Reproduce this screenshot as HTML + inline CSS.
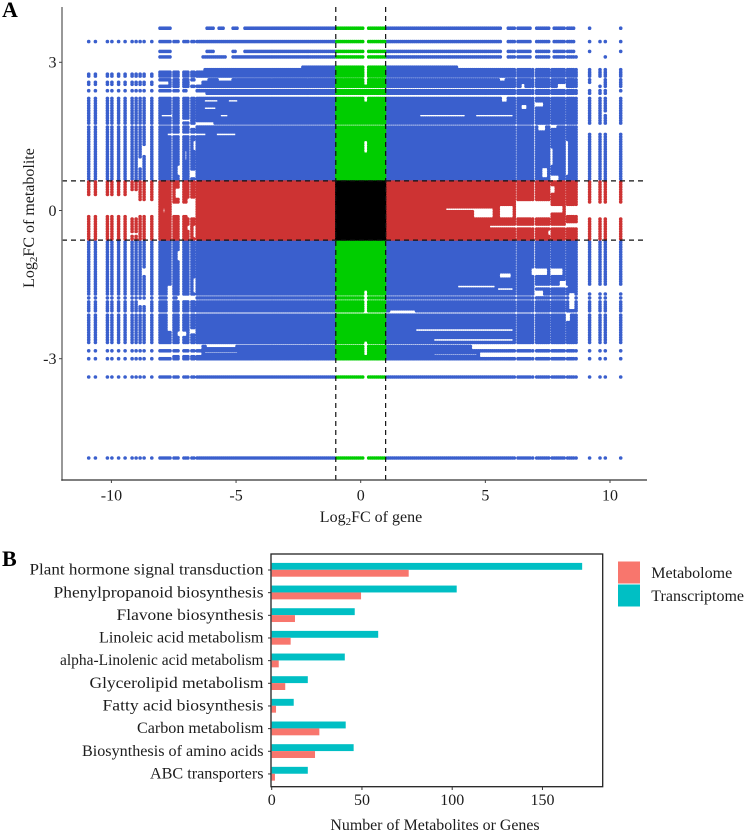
<!DOCTYPE html>
<html lang="en">
<head>
<meta charset="utf-8">
<title>Gene and metabolite fold change charts</title>
<style>
html,body{margin:0;padding:0;background:#fff;}
svg{display:block;font-family:"Liberation Serif",serif;}
text{fill:#1c1c1c;}
</style>
</head>
<body>
<svg id="figure" xmlns="http://www.w3.org/2000/svg" width="744" height="832" viewBox="0 0 744 832">
<rect width="744" height="832" fill="#fff"/>
<text x="2" y="17" font-size="22" font-weight="bold" style="fill:#000">A</text>
<text x="2" y="566" font-size="22" font-weight="bold" style="fill:#000">B</text>
<g id="scatter"></g>
<text x="371" y="522" font-size="16" text-anchor="middle">Log<tspan dy="3" font-size="11">2</tspan><tspan dy="-3">FC of gene</tspan></text>
<text transform="translate(34,218) rotate(-90)" font-size="16" text-anchor="middle">Log<tspan dy="3" font-size="11">2</tspan><tspan dy="-3">FC of metabolite</tspan></text>
<g id="bars"></g>
<text x="435" y="830" font-size="15.9" text-anchor="middle">Number of Metabolites or Genes</text>
<rect x="618" y="561.5" width="22" height="22" fill="#F8766D"/>
<rect x="618" y="584.5" width="22" height="22" fill="#00BFC4"/>
<text x="651.3" y="578" font-size="16">Metabolome</text>
<text x="651.3" y="601" font-size="16">Transcriptome</text>
</svg>
<script>
var geneFC = [-10.91,-10.64,-10.16,-9.98,-9.71,-9.45,-9.17,-9.01,-8.85,-8.69,-8.38,-8.05,-7.97,-7.89,-7.81,-7.73,-7.65,-7.49,-7.41,-7.33,-7.09,-7.01,-6.93,-6.77,-6.69,
-6.56,-6.48,-6.4,-6.32,-6.24,-6.16,-6.08,-6,-5.92,-5.84,-5.76,-5.68,-5.6,-5.52,-5.44,-5.36,-5.28,-5.2,-5.12,-5.04,-4.96,-4.88,-4.8,-4.72,-4.64,-4.56,-4.48,-4.4,-4.32,-4.24,-4.16,-4.08,-4,-3.92,-3.84,-3.76,-3.68,-3.6,-3.52,-3.44,-3.36,-3.28,-3.2,-3.12,-3.04,-2.96,-2.88,-2.8,-2.72,-2.64,-2.56,-2.48,-2.4,-2.32,-2.24,-2.16,-2.08,-2,-1.92,-1.84,-1.76,-1.68,-1.6,-1.52,-1.44,-1.36,-1.28,-1.2,-1.12,-1.04,
-0.96,-0.88,-0.8,-0.72,-0.64,-0.56,-0.48,-0.4,-0.32,-0.24,-0.16,-0.08,0,0.08,0.16,0.24,0.32,0.4,0.48,0.56,0.64,0.72,0.8,0.88,0.96,
1.04,1.12,1.2,1.28,1.36,1.44,1.52,1.6,1.68,1.76,1.84,1.92,2,2.08,2.16,2.24,2.32,2.4,2.48,2.56,2.64,2.72,2.8,2.88,2.96,3.04,3.12,3.2,3.28,3.36,3.44,3.52,3.6,3.68,3.76,3.84,3.92,4,4.08,4.16,4.24,4.32,4.4,4.48,4.56,4.64,4.72,4.8,4.88,4.96,5.04,5.12,5.2,5.28,5.36,5.44,5.52,5.6,5.68,5.76,5.84,5.92,6,6.08,6.16,
6.31,6.39,6.47,6.55,6.63,6.71,6.79,6.9,7.06,7.14,7.22,7.3,7.38,7.46,7.54,7.68,7.76,7.84,7.92,8,8.08,8.16,8.3,8.38,8.46,8.54,8.64,9.18,9.6,9.81,10.43];

var metaboliteFC = [3.69,3.42,3.22,3.11,
2.9,2.85,2.8,2.76,2.72,2.645,2.595,2.555,2.515,2.425,2.375,2.27,2.22,2.17,2.12,2.07,2.02,1.97,1.92,1.87,1.82,1.77,1.69,1.64,1.59,1.54,1.49,1.44,1.39,1.34,1.29,1.24,1.19,1.14,1.09,1.04,0.99,0.94,0.89,0.84,0.79,0.74,0.69,0.64,
0.575,0.525,0.475,0.425,0.375,0.325,0.275,0.225,0.175,0.125,0.075,0.025,-0.025,-0.075,-0.125,-0.175,-0.225,-0.275,-0.325,-0.375,-0.425,-0.475,-0.525,-0.575,
-0.64,-0.69,-0.74,-0.79,-0.84,-0.89,-0.94,-0.99,-1.04,-1.09,-1.14,-1.19,-1.24,-1.29,-1.34,-1.39,-1.44,-1.49,-1.54,-1.59,-1.64,-1.69,-1.77,-1.85,-1.9,-1.95,-1.99,-2.03,-2.12,-2.17,-2.22,-2.27,-2.32,-2.37,-2.42,-2.47,-2.52,-2.57,-2.62,-2.67,-2.75,-2.8,-2.84,-2.88,-2.92,-2.96,-3,
-3.37,-5.01];

/* gene-metabolite pairs absent from the plot: [geneMin, geneMax, metaboliteMin, metaboliteMax] */
var absentPairs = [
[-11.5,-8.1,3.6,3.8],[-7.6,-6.2,3.6,3.8],[-5.85,-5.7,3.6,3.8],[-5.5,-5.15,3.6,3.8],[-4.95,-4.7,3.6,3.8],
[-11.5,-8.1,3.05,3.3],[-7.6,-6.2,3.18,3.26],[-5.85,-5.2,3.18,3.26],[-5,-4.7,3.18,3.26],[-7.6,-6.35,3.08,3.14],[-5.4,-5.2,3.08,3.14],
[0.14,0.26,3.05,3.75],[0.14,0.26,-3.42,-3.3],[0.14,0.3,-5.05,-4.95],
[5.66,5.86,3.05,3.75],[6.88,7.02,3.05,3.75],[7.6,7.74,3.05,3.75],[8.62,8.66,3.15,3.8],[9.5,9.9,3.6,3.8],[9.5,9.7,3.18,3.26],[9.1,9.3,3.08,3.14],[10.3,10.5,3.08,3.14],[9.5,9.7,3.08,3.14],[9.7,9.9,3.18,3.26],
[-11.5,-2.4,2.88,2.92],[3.9,11,2.88,2.92],[-11.5,-6.25,2.83,2.87],[-11.5,-8.1,2.78,2.82],
[0.14,0.26,2.55,2.9],[0.14,0.26,2.2,2.3],[0.14,0.26,1.16,1.43],[0.14,0.26,-2.95,-2.65],[0.14,0.26,-2.1,-1.6],
[-11.5,-8.3,2.63,2.66],[-11.5,-8.3,2.5,2.53],[-11.5,-6.2,2.36,2.39],[-8.1,-7.7,2.54,2.6],[-7,-6.6,2.4,2.45],[-6.8,-6.4,2.53,2.6],
[-6.6,-6.1,2.62,2.66],[-5.7,-5.2,2.62,2.66],[-6.3,-5.7,2.21,2.23],[-5.3,-4.9,2.21,2.23],[-6.3,-5.8,2.04,2.08],[-5.6,-5.3,1.9,1.93],[-6.6,-5.9,1.72,1.78],[-7.8,-6.2,1.53,1.55],[-5.8,-5,1.53,1.55],[-6.8,-6.66,1.68,1.72],
[-8,-7.6,1.88,1.92],[-7.1,-6.9,1.8,1.84],[-6.7,-6.68,1.2,1.4],[-7.02,-7,1,1.2],[-8.7,-8.68,1.1,1.3],[-8.86,-8.84,0.85,1.05],[-7.34,-7.32,0.72,0.9],[-6.78,-6.68,0.66,0.8],
[5.6,5.8,2.62,2.66],[5.62,5.86,2.2,2.28],[2.1,3.6,2.08,2.11],[4,6.15,2.08,2.11],[2.4,4.2,1.91,1.93],[4.6,6.15,1.91,1.93],
[6.4,6.7,2.03,2.15],[7.1,7.4,1.6,1.75],[7.6,7.9,1.66,1.75],[7.55,7.75,0.9,1.25],[7.3,7.5,0.66,0.85],[7.6,7.95,0.64,0.7],[8.2,8.3,0.7,1.4],[7.0,7.3,2.1,2.2],[7.9,8.2,2.5,2.56],[6.4,6.6,2.5,2.56],
[9,10.6,1.58,1.72],[9.5,9.7,2.55,2.65],[9.1,9.3,2.5,2.56],[10.3,10.5,2.35,2.42],[9.7,9.9,1.95,2],
[-11.5,-9.3,-0.1,0.31],[-9.3,-8.3,-0.1,0.2],[-9.3,-8.9,-0.14,0.42],[-7.5,-7,-0.1,0.17],[-6.95,-6.6,-0.15,0.25],[-7.45,-7.3,0.25,0.45],[-6.95,-6.85,-0.4,-0.3],[-6.75,-6.6,-0.56,-0.3],[-7.9,-7.85,-0.03,0.03],[-9.3,-8.9,-0.48,-0.46],
[4.55,5.3,-0.13,0.04],[5.55,6.15,-0.13,0.09],[3.4,4.5,0.01,0.04],[6.3,7.55,-0.13,0.2],[7.6,8.1,-0.06,0.08],[8.2,8.7,-0.1,0.08],[8.3,8.7,-0.33,-0.25],[5.2,8.3,-0.33,-0.31],[7.6,7.8,0.35,0.5],[7.5,7.65,-0.5,-0.42],[8.72,11,-0.14,0.14],[9.1,9.3,-0.16,-0.14],
[-7.8,-7.58,-2.45,-1.5],[-8.86,-8.68,-1.9,-1.78],[-6.7,-6.6,-1.65,-1.35],[-7.34,-7.3,-1,-0.8],[-8.7,-8.68,-1.3,-1.15],[-6.9,-6.65,-2.5,-2.42],[-7.4,-7,-2.52,-2.46],[-6.3,-5,-2.6,-2.58],[-7.4,-6.6,-1.77,-1.75],
[-11.5,-7.5,-2.82,-2.7],[-11.5,-7.5,-2.98,-2.86],[-7.5,-6.4,-2.93,-2.86],[-7.5,-6.35,-2.82,-2.7],[-6.2,-5,-2.76,-2.74],[-6.3,-4.9,-2.9,-2.87],
[4.45,11,-2.82,-2.69],[4.75,11,-2.98,-2.86],[2.9,4.7,-2.93,-2.91],[5.6,6,-1.34,-1.26],[3.9,5.4,-1.55,-1.53],[5.5,6.15,-1.6,-1.58],[6.9,7.5,-1.3,-1.18],[7.6,8.1,-1.3,-1.18],[8.35,8.6,-2.0,-1.68],[7,7.3,-1.75,-1.6],
[2.2,6.15,-2.43,-2.41],[2.9,6.15,-2.63,-2.61],[8.0,8.2,-1.5,-1.4],[8.75,11,-1.64,-1.5],[7.05,8.3,-1.55,-1.53],[8.2,8.4,-2.25,-2.1],[1.2,2.2,-2.05,-2.02]
];

var xTickValues = [-10,-5,0,5,10];
var yTickValues = [3,0,-3];
var geneCutoffs = [-1,1];
var metaboliteCutoffs = [0.6,-0.6];

var pathways = ["Plant hormone signal transduction","Phenylpropanoid biosynthesis","Flavone biosynthesis","Linoleic acid metabolism","alpha-Linolenic acid metabolism","Glycerolipid metabolism","Fatty acid biosynthesis","Carbon metabolism","Biosynthesis of amino acids","ABC transporters"];
var transcriptomeCounts = [172,102.5,46,59,40.5,20,12.2,41,45.4,20];
var metabolomeCounts = [75.9,49.5,12.9,10.5,3.9,7.5,2.4,26.4,24,1.8];
var barTickValues = [0,50,100,150];

var NS = "http://www.w3.org/2000/svg";
function make(tag, attrs, parent, text) {
  var el = document.createElementNS(NS, tag);
  for (var k in attrs) el.setAttribute(k, attrs[k]);
  if (text !== undefined) el.textContent = text;
  parent.appendChild(el);
  return el;
}
function sx(v) { return 360.7 + 24.93 * v; }
function sy(v) { return 210.5 - 49.4 * v; }
function bx(v) { return 271.7 + 1.805 * v; }
function by(i) { return 570 + 22.66 * i; }

var scatter = document.getElementById("scatter");
var barsGroup = document.getElementById("bars");

function isAbsent(g, m) {
  for (var i = 0; i < absentPairs.length; i++) {
    var w = absentPairs[i];
    if (g >= w[0] && g <= w[1] && m >= w[2] && m <= w[3]) return true;
  }
  return false;
}

var dots = { blue: [], red: [], green: [], black: [] };
for (var r = 0; r < metaboliteFC.length; r++) {
  for (var c = 0; c < geneFC.length; c++) {
    var g = geneFC[c], m = metaboliteFC[r];
    if (isAbsent(g, m)) continue;
    var geneSig = Math.abs(g) >= 1, metSig = Math.abs(m) >= 0.6;
    var key = geneSig ? (metSig ? "blue" : "red") : (metSig ? "green" : "black");
    dots[key].push("M" + sx(g).toFixed(1) + " " + sy(m).toFixed(1) + "h.01");
  }
}

var blueDots = make("path", { d: dots.blue.join(""), stroke: "#3A5FCD", "stroke-width": 3.6, "stroke-linecap": "round", fill: "none" }, scatter);


var redDots = make("path", { d: dots.red.join(""), stroke: "#CD3333", "stroke-width": 3.6, "stroke-linecap": "round", fill: "none" }, scatter);


var greenDots = make("path", { d: dots.green.join(""), stroke: "#00CD00", "stroke-width": 3.6, "stroke-linecap": "round", fill: "none" }, scatter);


var blackDots = make("path", { d: dots.black.join(""), stroke: "#000", "stroke-width": 3.6, "stroke-linecap": "round", fill: "none" }, scatter);



geneCutoffs.forEach(function (v) {
  var l = make("line", { x1: sx(v), x2: sx(v), y1: 7, y2: 480, stroke: "#111", "stroke-width": 1.2, "stroke-dasharray": "5 4" }, scatter);
  
  
});
metaboliteCutoffs.forEach(function (v) {
  var l = make("line", { x1: 62, x2: 645, y1: sy(v), y2: sy(v), stroke: "#111", "stroke-width": 1.2, "stroke-dasharray": "5 4" }, scatter);
  
  
});

var yAxisA = make("line", { x1: 62, x2: 62, y1: 7, y2: 480.7, stroke: "#777", "stroke-width": 1.5 }, scatter);


var xAxisA = make("line", { x1: 61.3, x2: 647, y1: 480, y2: 480, stroke: "#333", "stroke-width": 1.3 }, scatter);



xTickValues.forEach(function (v) {
  var t = make("line", { x1: sx(v), x2: sx(v), y1: 480, y2: 483, stroke: "#444", "stroke-width": 1 }, scatter);
  
  
  var s = make("text", { x: sx(v), y: 500.7, "font-size": 16, "text-anchor": "middle" }, scatter, String(v));
  
  
});
yTickValues.forEach(function (v) {
  var t = make("line", { x1: 59, x2: 62, y1: sy(v), y2: sy(v), stroke: "#444", "stroke-width": 1 }, scatter);
  
  
  var s = make("text", { x: 56.5, y: sy(v) + 5.4, "font-size": 16, "text-anchor": "end" }, scatter, String(v));
  
  
});

function drawPathwayRows() {
  var fittedWidths = [234, 210, 147, 164.5, 203.5, 174, 161, 126.5, 181.5, 113.5];
  pathways.forEach(function (name, i) {
    var y = by(i);
    var teal = make("rect", { x: bx(0), y: y - 7.1, width: bx(transcriptomeCounts[i]) - bx(0), height: 6.9, fill: "#00BFC4" }, barsGroup);
    
    
    var coral = make("rect", { x: bx(0), y: y - 0.2, width: bx(metabolomeCounts[i]) - bx(0), height: 6.9, fill: "#F8766D" }, barsGroup);
    
    
    var t = make("line", { x1: 268, x2: 271, y1: y, y2: y, stroke: "#333", "stroke-width": 1 }, barsGroup);
    
    
    var s = make("text", { x: 263.5, y: y + 4.6, "font-size": 16, "text-anchor": "end", textLength: fittedWidths[i], lengthAdjust: "spacingAndGlyphs" }, barsGroup, name);
    
    
  });
}
drawPathwayRows();

var frame = make("rect", { x: 271, y: 554, width: 331.7, height: 232.7, fill: "none", stroke: "#222", "stroke-width": 1.3 }, barsGroup);



barTickValues.forEach(function (v) {
  var t = make("line", { x1: bx(v), x2: bx(v), y1: 786.7, y2: 790, stroke: "#333", "stroke-width": 1 }, barsGroup);
  
  
  var s = make("text", { x: bx(v), y: 805, "font-size": 16, "text-anchor": "middle" }, barsGroup, String(v));
  
  
});
</script>
</body>
</html>
